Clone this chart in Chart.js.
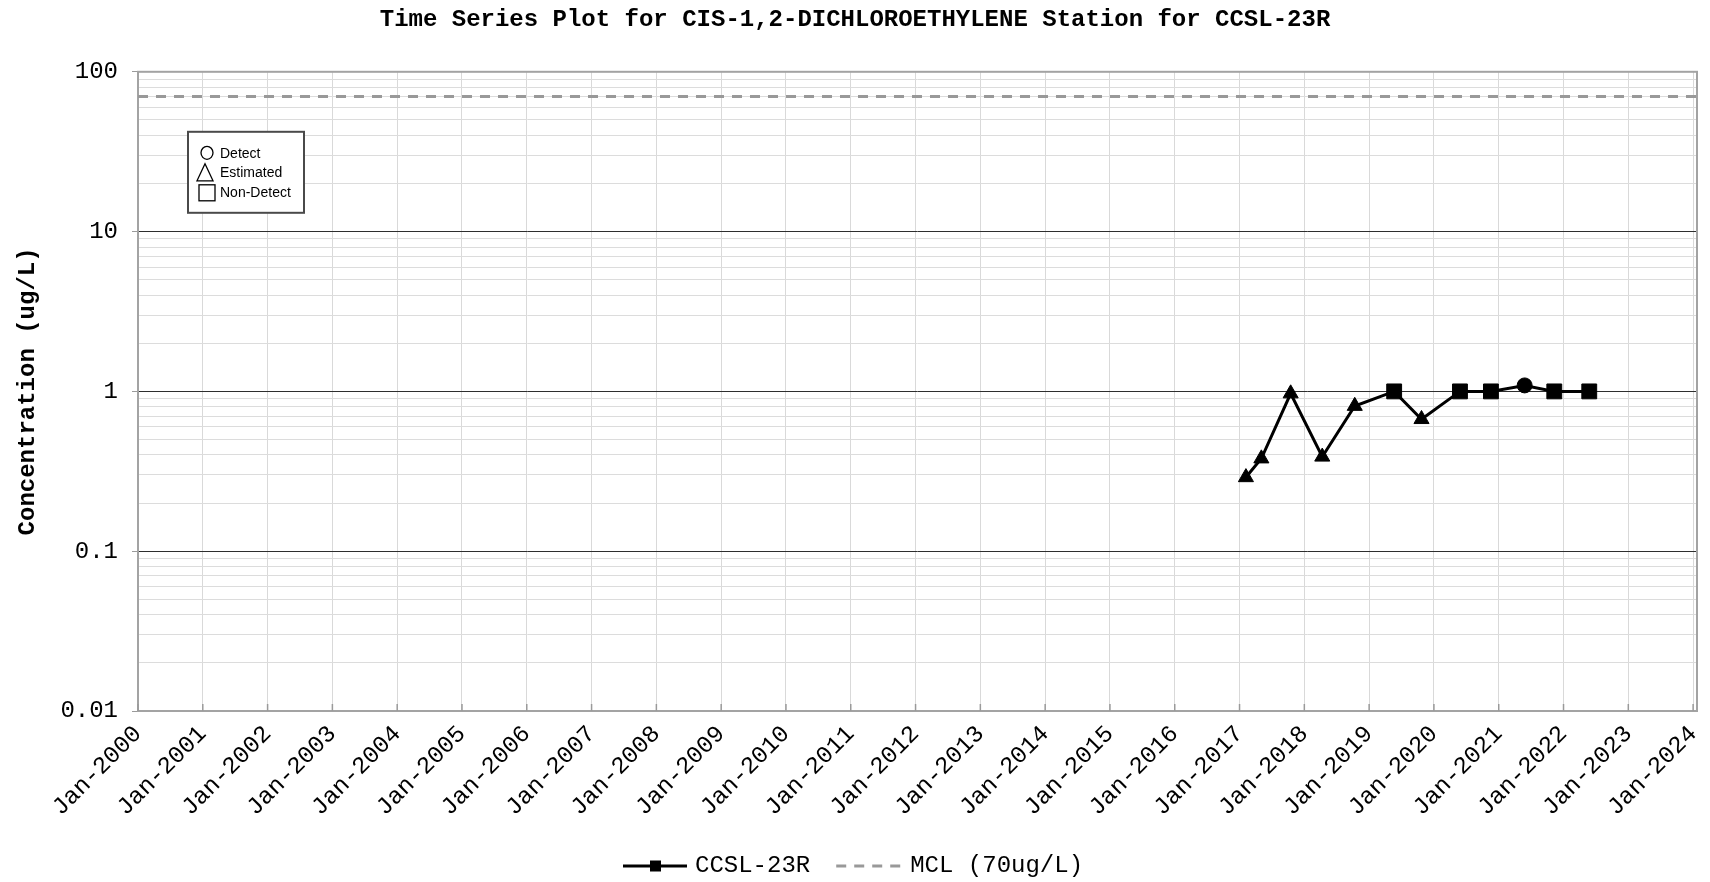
<!DOCTYPE html>
<html>
<head>
<meta charset="utf-8">
<title>Time Series Plot - CCSL-23R</title>
<script src="https://cdn.jsdelivr.net/npm/chart.js@4.4.1/dist/chart.umd.min.js"></script>
<style>
  html, body { margin: 0; padding: 0; background: #fff; }
  #wrap { position: relative; width: 1710px; height: 882px; }
</style>
</head>
<body>
<div id="wrap"><canvas id="chart"></canvas></div>
<script>
// Samples (E = estimated, U = non-detect, D = detect)
const sampleDates = ["2017-02-06", "2017-05-04", "2017-10-16", "2018-04-12", "2018-10-12", "2019-05-22",
                     "2019-10-23", "2020-05-27", "2020-11-18", "2021-05-27", "2021-11-10", "2022-05-26"];
const sampleValues = [0.29, 0.38, 0.97, 0.39, 0.81, 1, 0.67, 1, 1, 1.09, 1, 1];
const sampleFlags = ["E", "E", "E", "E", "E", "U", "E", "U", "U", "D", "U", "U"];

const mclValue = 70;
const mclLabel = "MCL (70ug/L)";
const stationLabel = "CCSL-23R";

const xTickYears = [2000, 2001, 2002, 2003, 2004, 2005, 2006, 2007, 2008, 2009, 2010, 2011, 2012,
                    2013, 2014, 2015, 2016, 2017, 2018, 2019, 2020, 2021, 2022, 2023, 2024];
const xMin = 2000;
const xMax = 2024.06; // axis runs a hair past the last tick
const yMajorTicks = [0.01, 0.1, 1, 10, 100];
const yTickLabels = ["0.01", "0.1", "1", "10", "100"];
const yMinorSteps = [2, 3, 4, 5, 6, 7, 8, 9];

const MONO = "'Liberation Mono', 'DejaVu Sans Mono', monospace";
const SANS = "'Liberation Sans', Arial, sans-serif";

const flagStyle = { D: "circle", E: "triangle", U: "rect" };
const flagRadius = { D: 7.5, E: 8.7, U: 10.5 };

// date string -> decimal year
function toYear(s) {
  const d = new Date(s + "T00:00:00Z");
  const y = d.getUTCFullYear();
  const start = Date.UTC(y, 0, 1);
  const end = Date.UTC(y + 1, 0, 1);
  return y + (d.getTime() - start) / (end - start);
}

const points = sampleDates.map((d, i) => ({ x: toYear(d), y: sampleValues[i] }));

// all y grid positions: decades plus 2..9 inside each decade
const yGridValues = [];
yMajorTicks.forEach((v, i) => {
  yGridValues.push(v);
  if (i < yMajorTicks.length - 1) {
    yMinorSteps.forEach((s) => yGridValues.push(+(v * s).toPrecision(3)));
  }
});

// frame, inside x ticks and the two legends
const framePlugin = {
  id: "frame",
  beforeDatasetsDraw(chart) {
    const { ctx, chartArea: a } = chart;
    const x = chart.scales.x;
    ctx.save();
    ctx.strokeStyle = "#a3a3a3";
    ctx.lineWidth = 2;
    ctx.strokeRect(a.left, a.top, a.right - a.left, a.bottom - a.top);
    ctx.lineWidth = 1.5;
    ctx.strokeStyle = "#9a9a9a";
    xTickYears.forEach((yr) => {
      const px = x.getPixelForValue(yr);
      ctx.beginPath();
      ctx.moveTo(px, a.bottom);
      ctx.lineTo(px, a.bottom - 7);
      ctx.stroke();
    });
    ctx.restore();
  },
  afterDraw(chart) {
    const { ctx, chartArea: a } = chart;
    ctx.save();

    // symbol key box
    const bx = a.left + 50, by = a.top + 60, bw = 116, bh = 81;
    ctx.fillStyle = "#fff";
    ctx.fillRect(bx, by, bw, bh);
    ctx.strokeStyle = "#4a4a4a";
    ctx.lineWidth = 2;
    ctx.strokeRect(bx, by, bw, bh);

    ctx.strokeStyle = "#000";
    ctx.lineWidth = 1.3;
    // circle
    ctx.beginPath();
    ctx.ellipse(bx + 19, by + 21, 6, 6.5, 0, 0, Math.PI * 2);
    ctx.stroke();
    // triangle
    ctx.beginPath();
    ctx.moveTo(bx + 17, by + 32);
    ctx.lineTo(bx + 25, by + 49);
    ctx.lineTo(bx + 9, by + 49);
    ctx.closePath();
    ctx.stroke();
    // square
    ctx.strokeRect(bx + 11, by + 53, 16, 16);

    ctx.fillStyle = "#000";
    ctx.font = "14px " + SANS;
    ctx.textBaseline = "middle";
    ctx.textAlign = "left";
    ctx.fillText("Detect", bx + 32, by + 22);
    ctx.fillText("Estimated", bx + 32, by + 41);
    ctx.fillText("Non-Detect", bx + 32, by + 61);

    // series legend under the axis
    const ly = 866;
    let lx = 623;
    ctx.strokeStyle = "#000";
    ctx.lineWidth = 3;
    ctx.beginPath();
    ctx.moveTo(lx, ly);
    ctx.lineTo(lx + 64, ly);
    ctx.stroke();
    ctx.fillRect(lx + 27, ly - 5.5, 11, 11);
    lx += 72;
    ctx.font = "24px " + MONO;
    ctx.fillText(stationLabel, lx, ly);
    lx += ctx.measureText(stationLabel).width + 26;
    ctx.strokeStyle = "#999";
    ctx.setLineDash([10, 8]);
    ctx.beginPath();
    ctx.moveTo(lx, ly);
    ctx.lineTo(lx + 68, ly);
    ctx.stroke();
    ctx.setLineDash([]);
    ctx.fillText(mclLabel, lx + 74, ly);

    ctx.restore();
  }
};

const chart = new Chart(document.getElementById("chart"), {
  type: "line",
  data: {
    datasets: [
      {
        label: mclLabel,
        data: [{ x: xMin, y: mclValue }, { x: xMax, y: mclValue }],
        borderColor: "#999",
        borderWidth: 3,
        borderDash: [10, 8],
        pointRadius: 0,
        fill: false
      },
      {
        label: stationLabel,
        data: points,
        borderColor: "#000",
        backgroundColor: "#000",
        borderWidth: 3,
        tension: 0,
        fill: false,
        pointStyle: (c) => flagStyle[sampleFlags[c.dataIndex]],
        pointRadius: (c) => flagRadius[sampleFlags[c.dataIndex]],
        pointBackgroundColor: "#000",
        pointBorderColor: "#000",
        pointBorderWidth: 1
      }
    ]
  },
  options: {
    responsive: true,
    maintainAspectRatio: false,
    animation: false,
    layout: { padding: { left: 0, right: 0, top: 0, bottom: 61 } },
    plugins: {
      legend: { display: false },
      tooltip: { enabled: false },
      title: {
        display: true,
        text: "Time Series Plot for CIS-1,2-DICHLOROETHYLENE Station for CCSL-23R",
        color: "#000",
        font: { family: MONO, size: 24, weight: "bold" },
        padding: { top: 6, bottom: 37 }
      }
    },
    scales: {
      x: {
        type: "linear",
        min: xMin,
        max: xMax,
        afterBuildTicks: (scale) => {
          scale.ticks = xTickYears.map((v) => ({ value: v }));
        },
        afterFit: (scale) => {
          scale.height = 110;
          scale.paddingLeft = 0;
          scale.paddingRight = 13;
        },
        border: { display: false },
        grid: { color: "#d9d9d9", lineWidth: 1, drawTicks: false },
        ticks: {
          autoSkip: false,
          maxRotation: 45,
          minRotation: 45,
          padding: 9,
          color: "#000",
          font: { family: MONO, size: 24 },
          callback: (v) => "Jan-" + v
        }
      },
      y: {
        type: "logarithmic",
        min: 0.01,
        max: 100,
        afterBuildTicks: (scale) => {
          scale.ticks = yGridValues.map((v) => ({ value: v }));
        },
        afterFit: (scale) => {
          scale.width = 138;
        },
        border: { display: false },
        grid: {
          lineWidth: 1,
          tickLength: 6,
          color: (c) => (c.tick && yMajorTicks.includes(c.tick.value) ? "#2e2e2e" : "#dcdcdc"),
          tickColor: (c) => (c.tick && yMajorTicks.includes(c.tick.value) ? "#9a9a9a" : "rgba(0,0,0,0)")
        },
        ticks: {
          autoSkip: false,
          padding: 14,
          color: "#000",
          font: { family: MONO, size: 24 },
          callback: (v) => {
            const i = yMajorTicks.indexOf(v);
            return i >= 0 ? yTickLabels[i] : "";
          }
        },
        title: {
          display: true,
          text: "Concentration (ug/L)",
          color: "#000",
          font: { family: MONO, size: 24, weight: "bold" },
          padding: { top: 14, bottom: 0 }
        }
      }
    }
  },
  plugins: [framePlugin]
});
</script>
</body>
</html>
